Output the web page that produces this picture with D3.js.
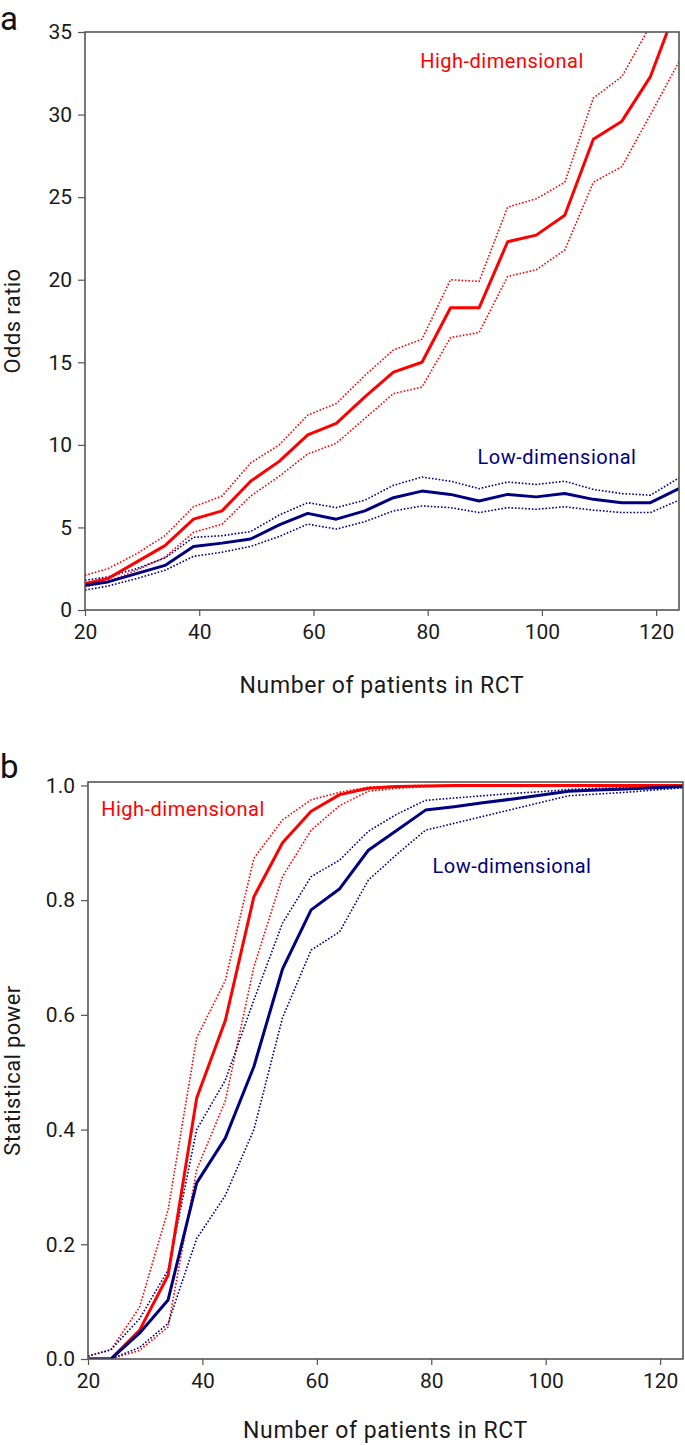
<!DOCTYPE html>
<html>
<head>
<meta charset="utf-8">
<script src="https://cdn.jsdelivr.net/npm/d3@7"></script>
<style>
  body { margin: 0; background: #fff; }
  text { font-family: Roboto, "DejaVu Sans", sans-serif; }
</style>
</head>
<body>
<div id="body"></div>
<script>
// number of patients in the RCT (x values, shared by both panels)
var nPatients = [20, 24, 29, 34, 39, 44, 49, 54, 59, 64, 69, 74, 79, 84, 89, 94, 99, 104, 109, 114, 119, 124];

// panel a: odds ratio
var orHigh      = [1.6, 1.9, 2.9, 3.9, 5.5, 6.0, 7.8, 9.0, 10.6, 11.3, 12.9, 14.4, 15.0, 18.3, 18.3, 22.3, 22.7, 23.9, 28.5, 29.6, 32.3, 36.9];
var orHighUpper = [2.1, 2.5, 3.4, 4.5, 6.25, 6.9, 8.9, 10.0, 11.8, 12.5, 14.2, 15.75, 16.4, 20.0, 19.9, 24.4, 24.9, 25.9, 31.0, 32.3, 35.4, 38.0];
var orHighLower = [1.4, 1.7, 2.4, 3.2, 4.7, 5.2, 6.9, 8.1, 9.45, 10.1, 11.6, 13.1, 13.5, 16.5, 16.8, 20.2, 20.6, 21.8, 25.9, 26.85, 30.0, 33.2];
var orLow       = [1.5, 1.7, 2.2, 2.7, 3.85, 4.05, 4.3, 5.15, 5.85, 5.5, 6.0, 6.8, 7.2, 7.0, 6.6, 7.0, 6.85, 7.05, 6.7, 6.5, 6.5, 7.35];
var orLowUpper  = [1.8, 2.0, 2.5, 3.15, 4.4, 4.5, 4.75, 5.75, 6.5, 6.2, 6.65, 7.55, 8.05, 7.8, 7.35, 7.75, 7.6, 7.8, 7.3, 7.05, 6.95, 8.0];
var orLowLower  = [1.2, 1.45, 1.9, 2.4, 3.25, 3.5, 3.85, 4.45, 5.2, 4.9, 5.35, 6.0, 6.3, 6.2, 5.9, 6.2, 6.1, 6.25, 6.05, 5.9, 5.9, 6.65];

// panel b: statistical power
var powHigh      = [0, 0, 0.05, 0.146, 0.455, 0.59, 0.806, 0.9, 0.955, 0.984, 0.995, 0.998, 0.999, 1, 1, 1, 1, 1, 1, 1, 1, 1];
var powHighUpper = [0.005, 0.016, 0.09, 0.26, 0.56, 0.66, 0.873, 0.94, 0.975, 0.988, 0.997, 0.999, 1, 1, 1, 1, 1, 1, 1, 1, 1, 1];
var powHighLower = [0, 0, 0.015, 0.056, 0.33, 0.45, 0.684, 0.841, 0.922, 0.965, 0.99, 0.995, 0.998, 0.999, 1, 1, 1, 1, 1, 1, 1, 1];
var powLow       = [0, 0, 0.045, 0.103, 0.307, 0.385, 0.51, 0.68, 0.783, 0.82, 0.887, 0.922, 0.957, 0.963, 0.97, 0.976, 0.983, 0.99, 0.992, 0.994, 0.996, 0.998];
var powLowUpper  = [0.005, 0.016, 0.07, 0.155, 0.40, 0.486, 0.626, 0.76, 0.841, 0.87, 0.92, 0.95, 0.974, 0.978, 0.982, 0.986, 0.989, 0.993, 0.995, 0.996, 0.997, 0.999];
var powLowLower  = [0, 0, 0.02, 0.062, 0.21, 0.285, 0.40, 0.595, 0.713, 0.745, 0.835, 0.88, 0.922, 0.934, 0.946, 0.958, 0.97, 0.982, 0.985, 0.988, 0.992, 0.996];

var xTicks = [20, 40, 60, 80, 100, 120];
var orTicks = [0, 5, 10, 15, 20, 25, 30, 35];
var powTicks = [0, 0.2, 0.4, 0.6, 0.8, 1.0];

var red = "#ff0000";
var navy = "#000080";
var axisColor = "#555";

var svg = d3.select("#body")
  .append("svg")
  .attr("width", 685)
  .attr("height", 1445);

function drawPanel(opts) {
  var width = opts.right - opts.left;
  var height = opts.bottom - opts.top;

  var g = svg.append("g")
    .attr("transform", "translate(" + opts.left + "," + opts.top + ")");

  var x = d3.scaleLinear().domain([20, 124]).range([0, width]);
  var y = d3.scaleLinear().domain(opts.yDomain).range([height, 0]);

  g.append("clipPath")
    .attr("id", "clip-" + opts.name)
    .append("rect")
    .attr("width", width)
    .attr("height", height);

  var line = d3.line()
    .x(function(d) { return x(d[0]); })
    .y(function(d) { return y(d[1]); });

  var plot = g.append("g").attr("clip-path", "url(#clip-" + opts.name + ")");

  opts.series.forEach(function(s) {
    plot.append("path")
      .datum(nPatients.map(function(n, i) { return [n, s.values[i]]; }))
      .attr("fill", "none")
      .attr("stroke", s.color)
      .attr("stroke-width", s.dotted ? 1.6 : 3)
      .attr("stroke-dasharray", s.dotted ? "1.6,1.8" : null)
      .attr("stroke-linejoin", "round")
      .attr("d", line);
  });

  var xAxis = g.append("g")
    .attr("transform", "translate(0," + height + ")")
    .call(d3.axisBottom(x).tickValues(xTicks).tickSize(6).tickSizeOuter(0).tickPadding(8));

  var yAxis = g.append("g")
    .call(d3.axisLeft(y).tickValues(opts.yTicks).tickFormat(opts.yFormat).tickSize(7).tickSizeOuter(0).tickPadding(6));

  [xAxis, yAxis].forEach(function(a) {
    a.select(".domain").remove();
    a.selectAll(".tick line").attr("stroke", axisColor).attr("stroke-width", 1.2);
    a.selectAll(".tick text")
      .attr("fill", "#1a1a1a")
      .attr("font-size", 21);
  });

  g.append("rect")
    .attr("width", width)
    .attr("height", height)
    .attr("fill", "none")
    .attr("stroke", axisColor)
    .attr("stroke-width", 1.6);

  g.append("text")
    .attr("transform", "translate(" + (-opts.left + 20) + "," + (height / 2) + ") rotate(-90)")
    .attr("text-anchor", "middle")
    .attr("font-size", 22)
    .attr("letter-spacing", 0.4)
    .attr("fill", "#1a1a1a")
    .text(opts.yTitle);

  g.append("text")
    .attr("x", width / 2)
    .attr("y", height + opts.xTitleOffset)
    .attr("text-anchor", "middle")
    .attr("font-size", 23)
    .attr("letter-spacing", 0.6)
    .attr("fill", "#1a1a1a")
    .text("Number of patients in RCT");

  opts.labels.forEach(function(l) {
    g.append("text")
      .attr("x", l.x - opts.left)
      .attr("y", l.y - opts.top)
      .attr("text-anchor", "middle")
      .attr("font-size", 20)
      .attr("letter-spacing", 0.5)
      .attr("fill", l.color)
      .text(l.text);
  });

  svg.append("text")
    .attr("x", opts.letterX)
    .attr("y", opts.letterY)
    .attr("font-size", 33)
    .attr("fill", "#111")
    .text(opts.name);
}

drawPanel({
  name: "a",
  left: 85, right: 679, top: 32, bottom: 610,
  yDomain: [0, 35],
  yTicks: orTicks,
  yFormat: d3.format("d"),
  yTitle: "Odds ratio",
  xTitleOffset: 83,
  letterX: 0, letterY: 30,
  series: [
    { values: orHighUpper, color: red, dotted: true },
    { values: orHighLower, color: red, dotted: true },
    { values: orLowUpper, color: navy, dotted: true },
    { values: orLowLower, color: navy, dotted: true },
    { values: orHigh, color: red },
    { values: orLow, color: navy }
  ],
  labels: [
    { text: "High-dimensional", x: 502, y: 68, color: red },
    { text: "Low-dimensional", x: 557, y: 464, color: navy }
  ]
});

drawPanel({
  name: "b",
  left: 88, right: 683, top: 782, bottom: 1359,
  yDomain: [0, 1.006],
  yTicks: powTicks,
  yFormat: d3.format(".1f"),
  yTitle: "Statistical power",
  xTitleOffset: 79,
  letterX: 0, letterY: 778,
  series: [
    { values: powHighUpper, color: red, dotted: true },
    { values: powHighLower, color: red, dotted: true },
    { values: powLowUpper, color: navy, dotted: true },
    { values: powLowLower, color: navy, dotted: true },
    { values: powHigh, color: red },
    { values: powLow, color: navy }
  ],
  labels: [
    { text: "High-dimensional", x: 183, y: 816, color: red },
    { text: "Low-dimensional", x: 512, y: 873, color: navy }
  ]
});
</script>
</body>
</html>
